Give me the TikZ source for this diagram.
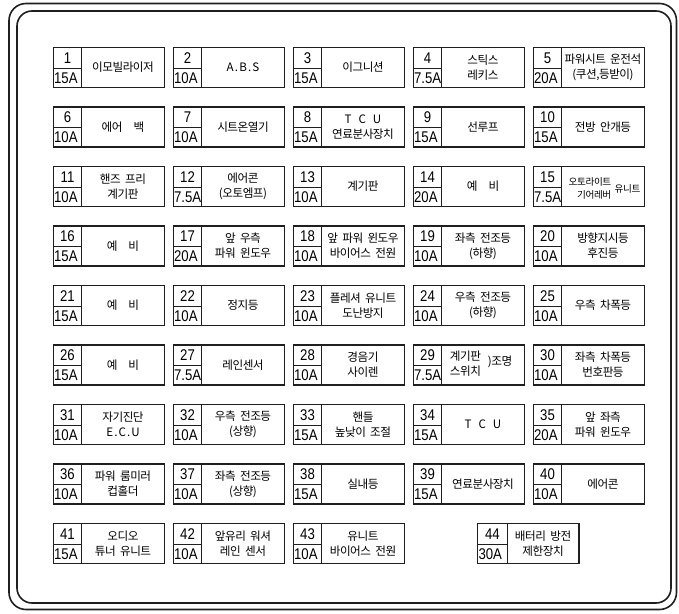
\documentclass[tikz,border=0pt]{standalone}
\usepackage{fontspec}
\newfontfamily\kfont{Noto Sans CJK KR}[WordSpace=2.0, LetterSpace=-4]
\newfontfamily\numfont{Liberation Sans}[FakeStretch=0.85]
\tikzset{
  boxline/.style={draw=black!88, line width=1.4pt},
  divline/.style={draw=black!88, line width=0.8pt},
  frameline/.style={draw=black!88, line width=1.6pt},
  numtxt/.style={font=\numfont\fontsize{15.5}{16}\selectfont, inner sep=0pt},
  amptxt/.style={font=\numfont\fontsize{15.5}{16}\selectfont, inner sep=0pt, anchor=west},
  lbl/.style={font=\kfont\fontsize{11.6}{15}\selectfont, align=center, inner sep=0pt},
  smalllbl/.style={font=\kfont\fontsize{9.6}{13.3}\selectfont, inner sep=0pt},
}
% id, amp, x, y, width, cell width, label
\newcommand\fusebox[7]{%
  \draw[boxline] (#3,#4) rectangle ++(#5,40.3);
  \draw[divline] (#3+#6,#4) -- ++(0,40.3);
  \draw[divline] (#3,#4+21) -- ++(#6,0);
  \node[numtxt] (n#1) at ({#3+#6/2},#4+10.6) {#1};
  \node[amptxt] (a#1) at (#3+0.6,#4+30.8) {#2};
  \node[lbl] (l#1) at ({#3+#6+(#5-#6)/2},#4+20.3) {#7};
}
% id, amp, column, row, label
\newcommand\fuse[5]{%
  \pgfmathsetmacro\fx{53.3+120*#3}%
  \pgfmathsetmacro\fy{47.3+59.5*#4}%
  \fusebox{#1}{#2}{\fx}{\fy}{111}{28.4}{#5}%
}
\newcommand\spc{\hspace{11pt}}
\newcommand\ls[1]{{\addfontfeature{LetterSpace=10}#1}}
\begin{document}
\begin{tikzpicture}[x=1pt,y=-1pt]
\useasboundingbox (0,0) rectangle (679,613);
\draw[frameline, rounded corners=17pt] (9,3.5) rectangle (676.5,609.5);
\draw[frameline, rounded corners=15pt] (17,11) rectangle (671,603);

% row 1
\fuse{1}{15A}{0}{0}{이모빌라이저}
\fuse{2}{10A}{1}{0}{\ls{A.B.S}}
\fuse{3}{15A}{2}{0}{이그니션}
\fuse{4}{7.5A}{3}{0}{스틱스\\레키스}
\fuse{5}{20A}{4}{0}{파워시트 운전석\\(쿠션,등받이)}
% row 2
\fuse{6}{10A}{0}{1}{에어\spc 백}
\fuse{7}{10A}{1}{1}{시트온열기}
\fuse{8}{15A}{2}{1}{T\hspace{7pt}C\hspace{7pt}U\\연료분사장치}
\fuse{9}{15A}{3}{1}{선루프}
\fuse{10}{15A}{4}{1}{전방 안개등}
% row 3
\fuse{11}{10A}{0}{2}{핸즈 프리\\계기판}
\fuse{12}{7.5A}{1}{2}{에어콘\\(오토엠프)}
\fuse{13}{10A}{2}{2}{계기판}
\fuse{14}{20A}{3}{2}{예\spc 비}
\fuse{15}{7.5A}{4}{2}{}
\node[smalllbl, align=right, anchor=east] (l15a) at (611.5,188.5) {오토라이트\\기어레버};
\node[smalllbl, anchor=west] (l15b) at (614.5,189.3) {유니트};
% row 4
\fuse{16}{15A}{0}{3}{예\spc 비}
\fuse{17}{20A}{1}{3}{앞 우측\\파워 윈도우}
\fuse{18}{10A}{2}{3}{앞 파워 윈도우\\바이어스 전원}
\fuse{19}{10A}{3}{3}{좌측 전조등\\(하향)}
\fuse{20}{10A}{4}{3}{방향지시등\\후진등}
% row 5
\fuse{21}{15A}{0}{4}{예\spc 비}
\fuse{22}{10A}{1}{4}{정지등}
\fuse{23}{10A}{2}{4}{플레셔 유니트\\도난방지}
\fuse{24}{10A}{3}{4}{우측 전조등\\(하향)}
\fuse{25}{10A}{4}{4}{우측 차폭등}
% row 6
\fuse{26}{15A}{0}{5}{예\spc 비}
\fuse{27}{7.5A}{1}{5}{레인센서}
\fuse{28}{10A}{2}{5}{경음기\\사이렌}
\fuse{29}{7.5A}{3}{5}{}
\node[lbl] (l29a) at (465.5,363.2) {계기판\\스위치};
\node[lbl] (l29b) at (500,362) {)조명};
\fuse{30}{10A}{4}{5}{좌측 차폭등\\번호판등}
% row 7
\fuse{31}{10A}{0}{6}{자기진단\\\ls{E.C.U}}
\fuse{32}{10A}{1}{6}{우측 전조등\\(상향)}
\fuse{33}{15A}{2}{6}{핸들\\높낮이 조절}
\fuse{34}{15A}{3}{6}{T\hspace{7pt}C\hspace{7pt}U}
\fuse{35}{20A}{4}{6}{앞 좌측\\파워 윈도우}
% row 8
\fuse{36}{10A}{0}{7}{파워 룸미러\\컵홀더}
\fuse{37}{10A}{1}{7}{좌측 전조등\\(상향)}
\fuse{38}{15A}{2}{7}{실내등}
\fuse{39}{15A}{3}{7}{연료분사장치}
\fuse{40}{10A}{4}{7}{에어콘}
% row 9
\fuse{41}{15A}{0}{8}{오디오\\튜너 유니트}
\fuse{42}{10A}{1}{8}{앞유리 워셔\\레인 센서}
\fuse{43}{10A}{2}{8}{유니트\\바이어스 전원}
\fusebox{44}{30A}{477.7}{523.3}{101.3}{29.5}{배터리 방전\\제한장치}
\end{tikzpicture}
\end{document}
